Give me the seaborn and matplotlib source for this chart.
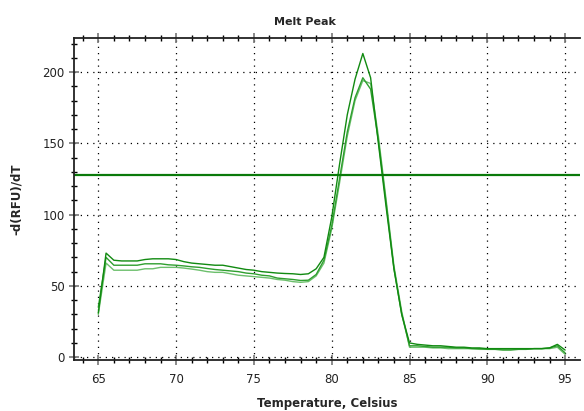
import numpy as np
import pandas as pd
import matplotlib
matplotlib.use('Agg')
import matplotlib.pyplot as plt
from matplotlib.ticker import MultipleLocator
import seaborn as sns

# Melt peak data (0.5 C steps)
temps = [65.0, 65.5, 66.0, 66.5, 67.0, 67.5, 68.0, 68.5, 69.0, 69.5,
         70.0, 70.5, 71.0, 71.5, 72.0, 72.5, 73.0, 73.5, 74.0, 74.5,
         75.0, 75.5, 76.0, 76.5, 77.0, 77.5, 78.0, 78.5, 79.0, 79.5,
         80.0, 80.5, 81.0, 81.5, 82.0, 82.5, 83.0, 83.5, 84.0, 84.5,
         85.0, 85.5, 86.0, 86.5, 87.0, 87.5, 88.0, 88.5, 89.0, 89.5,
         90.0, 90.5, 91.0, 91.5, 92.0, 92.5, 93.0, 93.5, 94.0, 94.5, 95.0]

well_a = [31, 73, 68, 67.5, 67.5, 67.5, 68.5, 69, 69, 69,
          68.5, 67, 66, 65.5, 65, 64.5, 64.5, 63.5, 62.5, 61.5,
          61, 60, 59.5, 59, 58.7, 58.5, 58, 58.5, 62, 70,
          98, 135, 170, 195, 213, 196, 150, 105, 62, 30,
          10, 9, 8.5, 8, 8, 7.5, 7, 7, 6.5, 6.5,
          6, 6, 6, 6, 6, 6, 6, 6, 6.5, 9, 5]

well_b = [35, 70, 64.5, 64.5, 64.5, 64.5, 65.5, 65.5, 65.5, 64.8,
          64.5, 64, 63.4, 63, 62.2, 61.5, 61, 60.5, 60, 59,
          58.5, 57.5, 57, 55.5, 55, 54.5, 53.8, 54, 58, 68,
          92, 125, 158, 182, 196, 188, 152, 108, 62, 30,
          8, 8, 7.5, 7, 7, 7, 6.5, 6.5, 6, 6,
          5.5, 5.5, 5, 5, 5.5, 5.5, 6, 6, 6.5, 8, 3]

well_c = [30, 66, 61, 61, 61, 61, 62, 62, 63, 63,
          63, 62.5, 61.8, 61, 60, 59.5, 59.5, 58.5, 57.5, 57,
          56.5, 56, 55.5, 54.5, 54, 53, 52.5, 53, 57, 66,
          90, 122, 155, 180, 194, 192, 155, 110, 64, 32,
          7, 7, 7, 6.5, 6.5, 6, 6, 6, 6, 5.5,
          5.5, 5.5, 5.5, 5.5, 5.5, 5.5, 6, 6, 6, 7, 2]

threshold = 127.5

wells = ['A', 'B', 'C']
well_colors = {'A': '#118a11', 'B': '#2f9f2f', 'C': '#6cbf6c'}

df = pd.DataFrame({
    'temp': temps * 3,
    'value': well_a + well_b + well_c,
    'well': ['A'] * len(temps) + ['B'] * len(temps) + ['C'] * len(temps),
})

sns.set_style('ticks')
plt.rcParams['font.family'] = ['DejaVu Sans']

fig = plt.figure(figsize=(5.84, 4.11), dpi=100)
ax = fig.add_axes([0.127, 0.124, 0.866, 0.784])

sns.lineplot(data=df, x='temp', y='value', hue='well', hue_order=wells[::-1],
             palette=well_colors, linewidth=1.0, legend=False, ax=ax)
ax.axhline(threshold, color='#0a7a0a', linewidth=1.6)

ax.set_xlim(63.45, 95.95)
ax.set_ylim(-2, 224)
ax.xaxis.set_major_locator(MultipleLocator(5))
ax.xaxis.set_minor_locator(MultipleLocator(1))
ax.yaxis.set_major_locator(MultipleLocator(50))
ax.yaxis.set_minor_locator(MultipleLocator(10))

ax.grid(True, which='major', color='black', linestyle=(0, (1, 4)), linewidth=0.9)

ax.tick_params(which='major', direction='inout', length=7, width=1.2, color='#777777',
               labelsize=8.5, labelcolor='#222222', top=True)
ax.tick_params(which='minor', direction='inout', length=5, width=1, color='black', top=True)
ax.tick_params(axis='x', pad=6)

for side in ['left', 'bottom', 'top']:
    ax.spines[side].set_color('#222222')
    ax.spines[side].set_linewidth(1.3)
ax.spines['right'].set_visible(False)

ax.set_xlabel('Temperature, Celsius', fontsize=8.5, fontweight='bold', labelpad=8)
ax.set_ylabel('-d(RFU)/dT', fontsize=8.5, fontweight='bold', labelpad=14)
fig.text(0.522, 0.946, 'Melt Peak', ha='center', va='center', fontsize=8, fontweight='bold')

fig.savefig('out.png', dpi=100)
